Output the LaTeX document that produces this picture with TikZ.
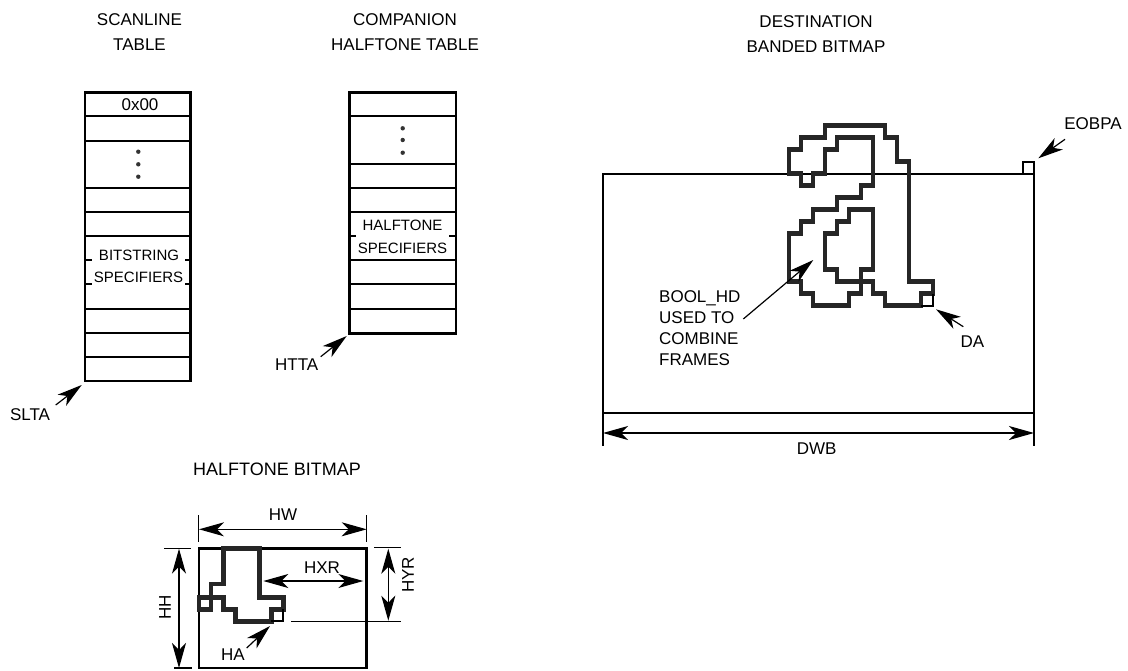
\documentclass[tikz,border=0pt]{standalone}
\usepackage{fontspec}
\setmainfont{Liberation Sans}
\usetikzlibrary{arrows.meta}
\begin{document}
\begin{tikzpicture}[x=1pt, y=-1pt, inner sep=0pt, line join=miter,
      every node/.style={font=\fontsize{17}{25}\selectfont, align=center},
      >={Stealth[length=25pt, width=14pt, inset=7pt]},
      frame/.style={line width=2.6pt},
      row/.style={line width=2pt},
      thin line/.style={line width=1.2pt},
      glyph/.style={line width=4.8pt, draw=black!85},
      dot/.style={circle, fill=black!80, minimum size=4.4pt},
      spec/.style={font=\fontsize{15}{22}\selectfont}]
      \useasboundingbox (0,0) rectangle (1128,670);
      % titles
      \node (ST) at (139.5,32.5) {SCANLINE\\TABLE};
      \node (CT) at (405,32) {COMPANION\\HALFTONE TABLE};
      \node (DT) at (816,34) {DESTINATION\\BANDED BITMAP};
      \node[font=\fontsize{18}{25}\selectfont] (HT) at (277,469) {HALFTONE BITMAP};
      % scanline table
      \draw[frame] (85,92.7) rectangle (190.7,381);
      \draw[row] (85,116) -- ++(105.7,0);
      \draw[row] (85,140.7) -- ++(105.7,0);
      \draw[row] (85,188.3) -- ++(105.7,0);
      \draw[row] (85,212.3) -- ++(105.7,0);
      \draw[row] (85,236) -- ++(105.7,0);
      \draw[row] (85,309) -- ++(105.7,0);
      \draw[row] (85,333.3) -- ++(105.7,0);
      \draw[row] (85,356.7) -- ++(105.7,0);
      \draw[row] (85,260) -- ++(7,0);
      \draw[row] (85,284) -- ++(7,0);
      \draw[row] (190.7,260) -- ++(-6,0);
      \draw[row] (190.7,284) -- ++(-6,0);
      \node (S0) at (140,105) {0x00};
      \node[dot] (S1) at (138.3,151.7) {};
      \node[dot] (S2) at (138.3,164.3) {};
      \node[dot] (S3) at (138.3,176.7) {};
      \node[spec] (SB) at (139,255) {BITSTRING};
      \node[spec] (SS) at (138.5,277) {SPECIFIERS};
      % companion table
      \draw[frame] (349.3,92.7) rectangle (456,333.3);
      \draw[row] (349.3,116) -- ++(106.7,0);
      \draw[row] (349.3,164.3) -- ++(106.7,0);
      \draw[row] (349.3,188.3) -- ++(106.7,0);
      \draw[row] (349.3,212.3) -- ++(106.7,0);
      \draw[row] (349.3,260) -- ++(106.7,0);
      \draw[row] (349.3,284.3) -- ++(106.7,0);
      \draw[row] (349.3,309) -- ++(106.7,0);
      \draw[row] (349.3,236) -- ++(7,0);
      \draw[row] (456,236) -- ++(-7,0);
      \node[dot] (C1) at (402.7,128.3) {};
      \node[dot] (C2) at (402.7,140) {};
      \node[dot] (C3) at (402.7,152.7) {};
      \node[spec] (CH) at (402.5,225.5) {HALFTONE};
      \node[spec] (CS) at (402.5,248) {SPECIFIERS};
      % table pointers
      \node (SLTA) at (30,415) {SLTA};
      \coordinate (SLa) at (55.7,405);
      \coordinate (SLb) at (81.7,385);
      \draw[thin line, ->] (SLa) -- (SLb);
      \node (HTTA) at (296.7,365) {HTTA};
      \coordinate (HTa) at (320.7,356.7);
      \coordinate (HTb) at (346.7,336);
      \draw[thin line, ->] (HTa) -- (HTb);
      % destination bitmap
      \draw[frame] (603,174) rectangle (1034,413);
      \draw[row] (1023,174) -- (1023,162.3) -- (1034,162.3) -- (1034,174);
      \draw[glyph] (825,125.7) -- (885,125.7) -- (885,137.7) -- (897,137.7) -- (897,161.7)
         -- (909,161.7) -- (909,281.7) -- (933,281.7) -- (933,293.7) -- (921,293.7)
         -- (921,305.7) -- (885,305.7) -- (885,293.7) -- (873,293.7) -- (873,281.7)
         -- (861,281.7) -- (861,269.7) -- (873,269.7) -- (873,209.7) -- (849,209.7)
         -- (849,221.7) -- (837,221.7) -- (837,233.7) -- (825,233.7) -- (825,269.7)
         -- (837,269.7) -- (837,281.7) -- (861,281.7) -- (861,293.7) -- (849,293.7)
         -- (849,305.7) -- (813,305.7) -- (813,293.7) -- (801,293.7) -- (801,281.7)
         -- (789,281.7) -- (789,233.7) -- (801,233.7) -- (801,221.7) -- (813,221.7)
         -- (813,209.7) -- (837,209.7) -- (837,197.7) -- (861,197.7) -- (861,185.7)
         -- (873,185.7) -- (873,137.7) -- (837,137.7) -- (837,149.7) -- (825,149.7)
         -- (825,173.7) -- (813,173.7) -- (813,185.7) -- (801,185.7) -- (801,173.7)
         -- (789,173.7) -- (789,149.7) -- (801,149.7) -- (801,137.7) -- (825,137.7)
         -- cycle;
      \draw[row] (933,293.7) -- (933,305.7) -- (921,305.7);
      \node[font=\fontsize{17}{21}\selectfont, align=left, anchor=west] (BOOL) at (659,328) {BOOL\_HD\\USED TO\\COMBINE\\FRAMES};
      \coordinate (BDa) at (743.3,319);
      \coordinate (BDb) at (813.3,260);
      \draw[thin line, ->] (BDa) -- (BDb);
      \node (DA) at (972.3,341.7) {DA};
      \coordinate (DAa) at (963.3,326.7);
      \coordinate (DAb) at (936,309.3);
      \draw[thin line, ->] (DAa) -- (DAb);
      \node (EOBPA) at (1093,124) {EOBPA};
      \coordinate (EOa) at (1065,139.3);
      \coordinate (EOb) at (1038.3,158.3);
      \draw[thin line, ->] (EOa) -- (EOb);
      \coordinate (DWa) at (603,433);
      \coordinate (DWb) at (1034,433);
      \draw[thin line, <->] (DWa) -- (DWb);
      \draw[thin line] (603,413) -- ++(0,33);
      \draw[thin line] (1034,413) -- ++(0,33);
      \node (DWB) at (816.7,449) {DWB};
      % halftone bitmap
      \draw[frame] (199,548.7) rectangle (366.7,668);
      \draw[glyph] (223.3,548.7) -- (259.3,548.7) -- (259.3,597.3) -- (283.3,597.3)
         -- (283.3,609.3) -- (271.3,609.3) -- (271.3,621.3) -- (235.3,621.3) -- (235.3,609.3)
         -- (223.3,609.3) -- (223.3,597.3) -- (199,597.3) -- (199,609.3) -- (211,609.3)
         -- (211,584) -- (223.3,584) -- cycle;
      \draw[row] (283.3,609.3) -- (283.3,621.3) -- (271.3,621.3);
      \coordinate (HWa) at (199,529.3);
      \coordinate (HWb) at (366.7,529.3);
      \draw[thin line, <->] (HWa) -- (HWb);
      \draw[thin line] (198.5,515) -- ++(0,27);
      \draw[thin line] (366.7,515) -- ++(0,27);
      \node (HW) at (283,515) {HW};
      \coordinate (HHa) at (179,548.7);
      \coordinate (HHb) at (179,668);
      \draw[thin line, <->] (HHa) -- (HHb);
      \draw[thin line] (164,548.7) -- ++(27,0);
      \draw[thin line] (174,668) -- ++(18,0);
      \node[rotate=90] (HH) at (165,607) {HH};
      \coordinate (HYa) at (388.3,548.7);
      \coordinate (HYb) at (388.3,620.7);
      \draw[thin line, <->] (HYa) -- (HYb);
      \draw[thin line] (374,547.5) -- ++(27,0);
      \draw[thin line] (291,621.3) -- ++(110,0);
      \node[rotate=90] (HYR) at (408,575) {HYR};
      \coordinate (HXa) at (263.3,581);
      \coordinate (HXb) at (363.3,581);
      \draw[thin line, <->] (HXa) -- (HXb);
      \node (HXR) at (322,568) {HXR};
      \node (HA) at (233,655) {HA};
      \coordinate (HAa) at (246.7,648);
      \coordinate (HAb) at (270,626);
      \draw[thin line, ->] (HAa) -- (HAb);
   \end{tikzpicture}
\end{document}
